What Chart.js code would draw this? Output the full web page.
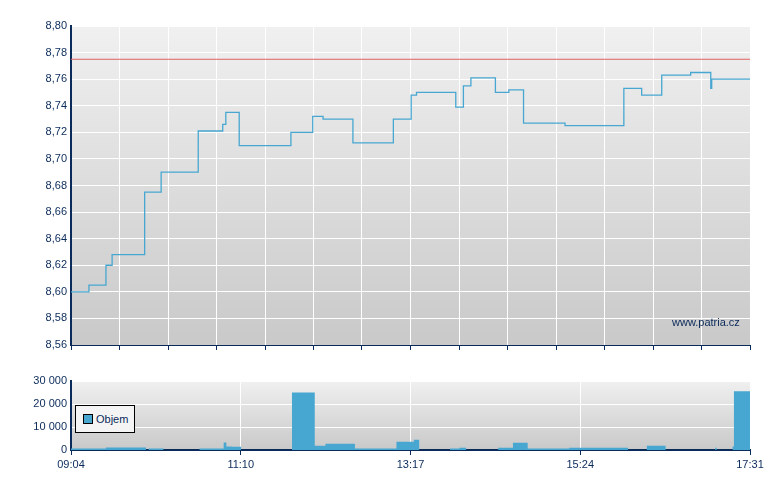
<!DOCTYPE html><html><head><meta charset="utf-8">
<script src="https://cdn.jsdelivr.net/npm/chart.js@4"></script>
<style>body{margin:0;background:#fff;width:780px;height:490px;position:relative;overflow:hidden;font-family:"Liberation Sans",Arial,sans-serif}
canvas{position:absolute;left:0}
#wm{position:absolute;left:672px;top:316px;font-size:11px;color:#0a2a5a}
#lg{position:absolute;left:75px;top:405px;width:58px;height:26px;border:1px solid #000;background:#f4f4f4;font-size:11px;color:#0a2a5a;line-height:26px}
#lg span{display:inline-block;width:8px;height:8px;background:#47a7d1;border:1px solid #000;margin:0 3px 0 7px;vertical-align:-1px}
</style></head><body>
<div style="position:absolute;left:0;top:0;width:780px;height:360px"><canvas id="c1"></canvas></div>
<div style="position:absolute;left:0;top:370px;width:780px;height:120px"><canvas id="c2"></canvas></div>
<div id="wm">www.patria.cz</div>
<div id="lg"><span></span>Objem</div>
<script>
const priceTimes=[544,557.4,570.1,574.7,599.0,611.3,639.0,657.3,659.6,669.6,708.2,724.5,732.2,754.5,784.7,798.0,802.0,831.3,837.0,842.6,860.9,870.9,881.9,912.9,956.8,970.1,985.1,1006.7,1021.7,1022.4,1051];
const priceValues=[8.600,8.605,8.620,8.628,8.675,8.690,8.721,8.726,8.735,8.710,8.720,8.732,8.730,8.712,8.730,8.748,8.750,8.739,8.755,8.761,8.750,8.752,8.727,8.725,8.753,8.748,8.763,8.765,8.753,8.760,8.760];
const refPrice=8.775;
const volTimes=[544,570,600,602,613,640,658,660,664,671,709,726,734,756,787,800,804,827,834,839,863,874,885,916,960,974,988,1025,1026,1038,1039,1051];
const volValues=[600,1100,0,700,0,600,3300,1500,1400,0,25000,1800,2700,600,3600,4500,0,600,1000,0,1000,3200,600,1000,0,1800,0,1000,0,1500,25500,25500];
const xLabels=['09:04','11:10','13:17','15:24','17:31'];
const T0=544,T1=1051;
const navy='#0a2a5a';
const font={family:'"Liberation Sans",Arial,sans-serif',size:11};
const bg={id:'bg',beforeDraw(c){const a=c.chartArea,x=c.ctx;const g=x.createLinearGradient(0,a.top,0,a.bottom);g.addColorStop(0,'#f0f0f0');g.addColorStop(1,'#c9c9c9');x.save();x.fillStyle=g;x.fillRect(a.left,a.top,a.right-a.left,a.bottom-a.top);x.restore();}};
new Chart(document.getElementById('c1'),{type:'line',plugins:[bg],
data:{datasets:[
{data:priceTimes.map((t,i)=>({x:t,y:priceValues[i]})),stepped:'before',borderColor:'#47a7d1',borderWidth:1.3,pointRadius:0},
{data:[{x:T0,y:refPrice},{x:T1,y:refPrice}],borderColor:'#e06060',borderWidth:1.2,pointRadius:0}]},
options:{animation:false,responsive:true,maintainAspectRatio:false,layout:{padding:{top:26,right:30,left:0,bottom:0}},
plugins:{legend:{display:false},tooltip:{enabled:false}},
scales:{x:{type:'linear',min:T0,max:T1,afterBuildTicks(s){s.ticks=[];for(let i=0;i<=14;i++)s.ticks.push({value:T0+i*(T1-T0)/14});},
ticks:{display:false},grid:{color:'#fff',lineWidth:1,tickLength:5,tickColor:navy},border:{color:navy},afterFit(s){s.height=15;}},
y:{min:8.56,max:8.80,afterBuildTicks(s){s.ticks=[];for(let i=0;i<=12;i++)s.ticks.push({value:8.56+i*0.02});},
ticks:{color:navy,font,padding:4,callback:v=>v.toFixed(2).replace('.',',')},grid:{color:'#fff',tickLength:0},border:{color:navy,width:2},afterFit(s){s.width=71;}}}}});
new Chart(document.getElementById('c2'),{type:'line',plugins:[bg],
data:{datasets:[{data:volTimes.map((t,i)=>({x:t,y:volValues[i]})),stepped:'before',borderWidth:0,borderColor:'#47a7d1',backgroundColor:'#47a7d1',fill:'origin',pointRadius:0}]},
options:{animation:false,responsive:true,maintainAspectRatio:false,layout:{padding:{top:11,right:30,left:0,bottom:0}},
plugins:{legend:{display:false},tooltip:{enabled:false}},
scales:{x:{type:'linear',min:T0,max:T1,afterBuildTicks(s){s.ticks=[];for(let i=0;i<=4;i++)s.ticks.push({value:T0+i*(T1-T0)/4});},
ticks:{color:navy,font,maxRotation:0,callback:(v,i)=>xLabels[i]},grid:{color:'#fff',tickLength:5,tickColor:navy},border:{color:navy,width:2},afterFit(s){s.height=40;}},
y:{min:0,max:30000,afterBuildTicks(s){s.ticks=[0,10000,20000,30000].map(v=>({value:v}));},
ticks:{color:navy,font,padding:4,callback:v=>v.toLocaleString('en-US').replace(/,/g,' ')},grid:{color:'#fff',tickLength:0},border:{color:navy,width:2},afterFit(s){s.width=71;}}}}});
</script></body></html>
